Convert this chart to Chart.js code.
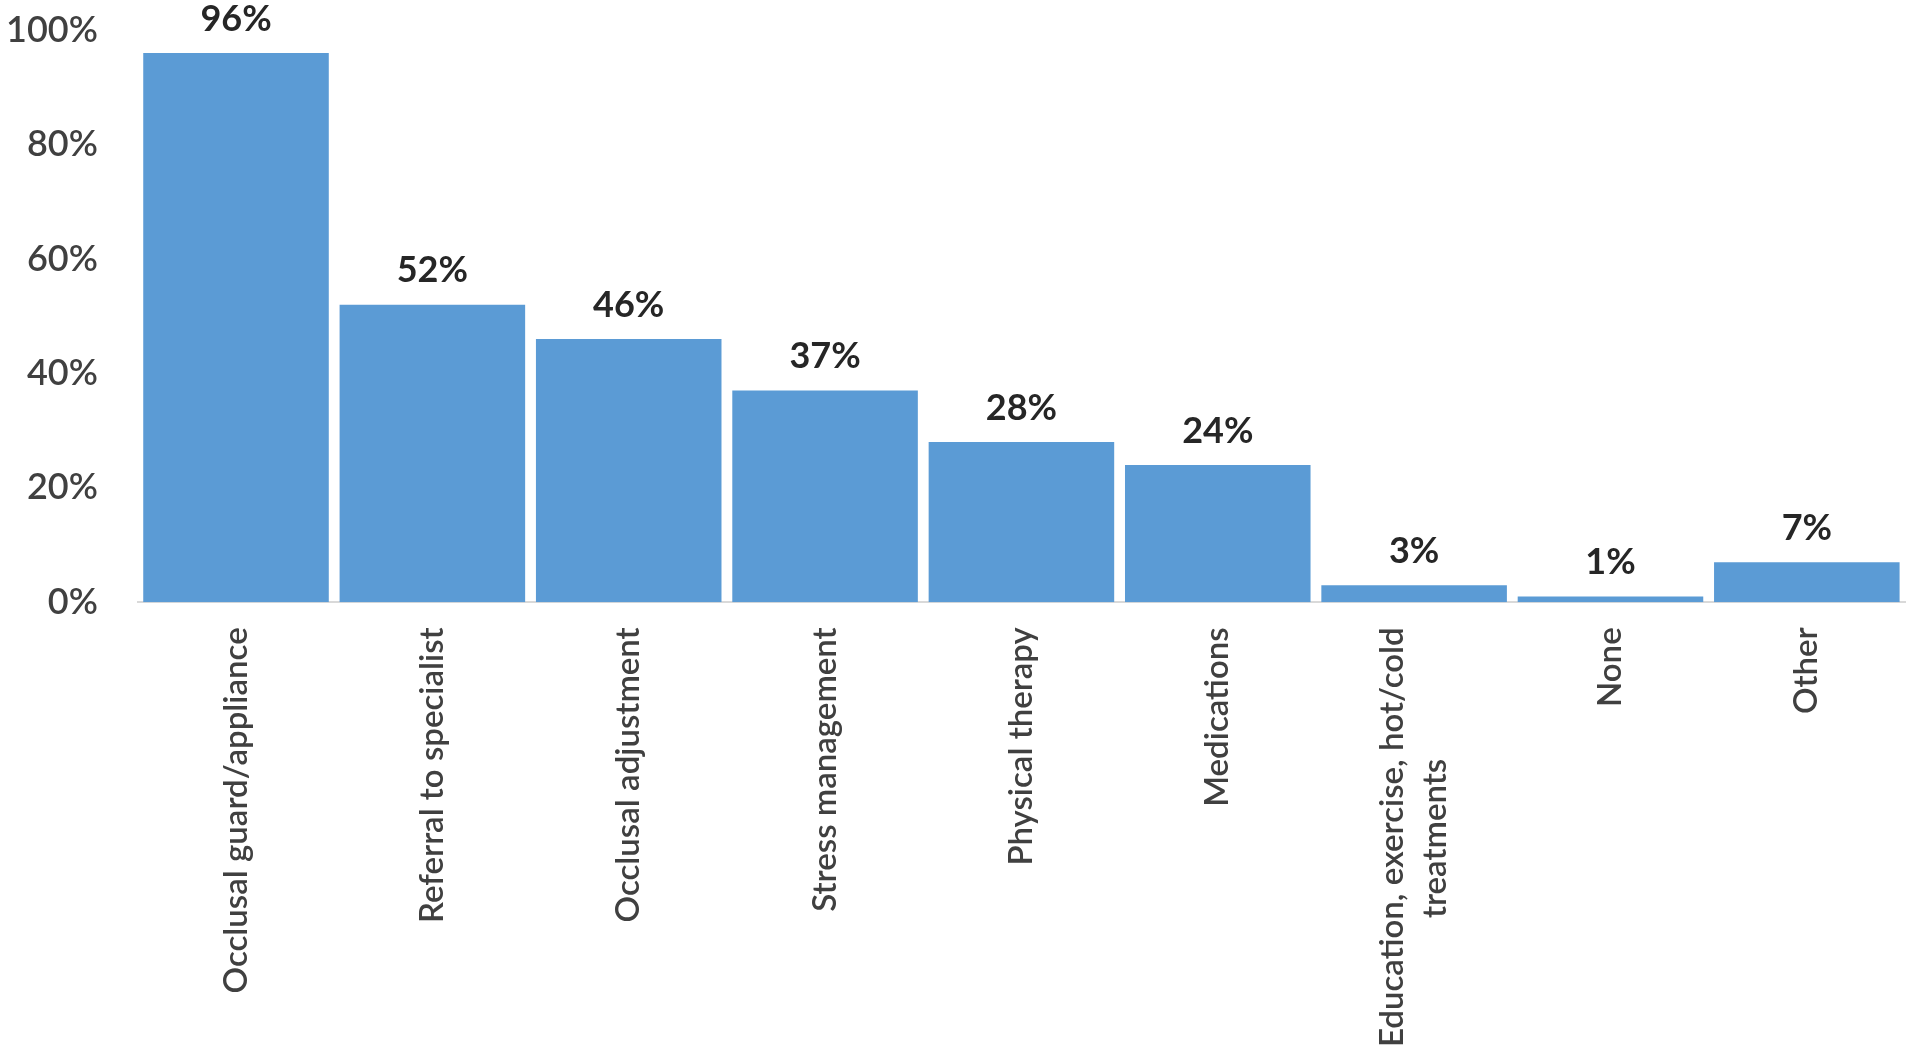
<!DOCTYPE html>
<html>
<head>
<meta charset="utf-8">
<script src="https://cdn.jsdelivr.net/npm/chart.js@4/dist/chart.umd.min.js"></script>
<style>
  html, body { margin: 0; padding: 0; background: #fff; }
  #wrap { width: 1920px; height: 1054px; }
</style>
</head>
<body>
<div id="wrap"><canvas id="chart"></canvas></div>
<script>
const categories = [
  'Occlusal guard/appliance',
  'Referral to specialist',
  'Occlusal adjustment',
  'Stress management',
  'Physical therapy',
  'Medications',
  ['Education, exercise, hot/cold', 'treatments'],
  'None',
  'Other'
]
const percents = [96, 52, 46, 37, 28, 24, 3, 1, 7]
const yTicks = [0, 20, 40, 60, 80, 100]

const xFont = { family: 'Lato', size: 33, weight: '600', lineHeight: 1.3 }

// pad shorter lines with trailing spaces so each line sits centred under the longest
function centerLines(label) {
  if (!Array.isArray(label)) return label
  const c = document.createElement('canvas').getContext('2d')
  c.font = `${xFont.weight} ${xFont.size}px ${xFont.family}`
  const widths = label.map(s => c.measureText(s).width)
  const maxW = Math.max(...widths)
  const sp = c.measureText(' ').width
  return label.map((s, i) => s + ' '.repeat(Math.round((maxW - widths[i]) / 2 / sp)))
}

// draws the % value above each bar
const valueLabels = {
  id: 'valueLabels',
  afterDatasetsDraw(chart) {
    const ctx = chart.ctx
    const meta = chart.getDatasetMeta(0)
    ctx.save()
    ctx.font = '700 36px Lato'
    ctx.fillStyle = '#262626'
    ctx.textAlign = 'center'
    ctx.textBaseline = 'middle'
    meta.data.forEach((bar, i) => {
      ctx.fillText(percents[i] + '%', bar.x, bar.y - 34)
    })
    ctx.restore()
  }
}

// center multi-line rotated labels on their tick
const centerMultiline = {
  id: 'centerMultiline',
  beforeDraw(chart) {
    const scale = chart.scales.x
    const getItems = scale.getLabelItems || scale._getLabelItems
    if (!getItems) return
    const items = getItems.call(scale, chart.chartArea)
    const lh = xFont.size * xFont.lineHeight
    items.forEach((item) => {
      if (Array.isArray(item.label) && !item._centered) {
        item.options.translation[0] -= (item.label.length - 1) * lh / 2
        item._centered = true
      }
    })
  }
}

// keep the axes from reserving extra room around the plot
const noAxisPadding = (axis) => {
  axis.paddingTop = 0
  axis.paddingBottom = 0
  axis.paddingLeft = 0
  axis.paddingRight = 0
}

const ctx = document.getElementById('chart')
new Chart(ctx, {
  type: 'bar',
  data: {
    labels: categories.map(centerLines),
    datasets: [{
      data: percents,
      backgroundColor: '#5B9BD5',
      borderWidth: 0,
      barPercentage: 0.945,
      categoryPercentage: 1
    }]
  },
  options: {
    responsive: true,
    maintainAspectRatio: false,
    animation: false,
    layout: { padding: { left: -34, right: 15, top: 30, bottom: -18 } },
    plugins: {
      legend: { display: false },
      tooltip: { enabled: false }
    },
    scales: {
      y: {
        min: 0,
        max: 100,
        afterBuildTicks: (axis) => { axis.ticks = yTicks.map(v => ({ value: v })) },
        afterFit: noAxisPadding,
        grid: { display: false, drawTicks: false },
        border: { display: false },
        ticks: {
          padding: 40,
          color: '#404040',
          font: { family: 'Lato', size: 36, weight: '600' },
          callback: (v) => v + '%'
        }
      },
      x: {
        afterFit: noAxisPadding,
        grid: { display: false, drawTicks: false },
        border: { display: true, color: '#D9D9D9', width: 2 },
        ticks: {
          minRotation: 90,
          maxRotation: 90,
          padding: 25,
          color: '#404040',
          font: xFont
        }
      }
    }
  },
  plugins: [valueLabels, centerMultiline]
})
</script>
</body>
</html>
